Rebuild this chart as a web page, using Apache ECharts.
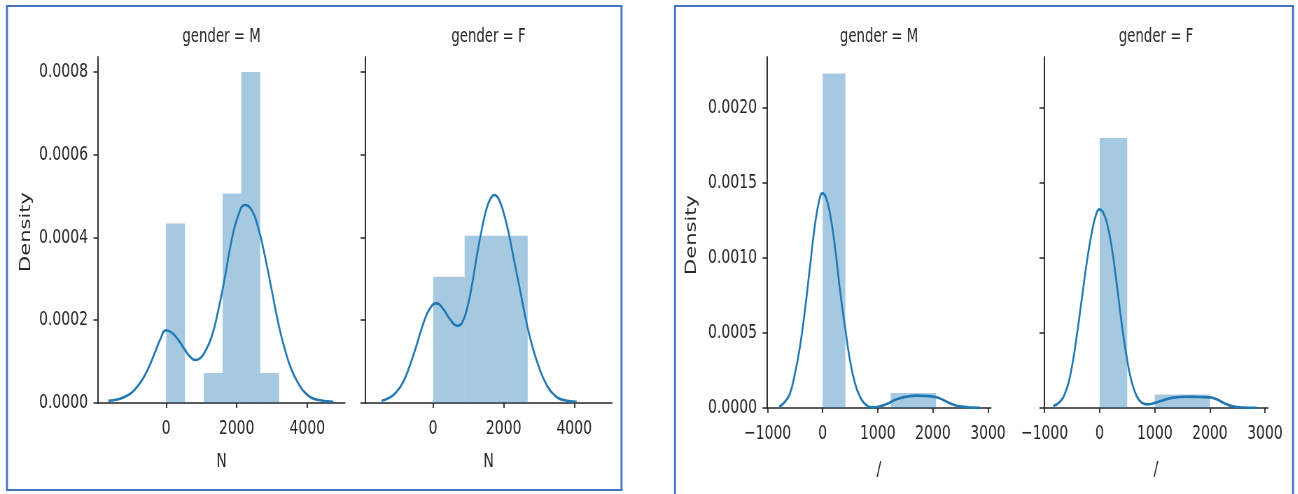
<!DOCTYPE html>
<html>
<head>
<meta charset="utf-8">
<script src="https://cdn.jsdelivr.net/npm/echarts@6/dist/echarts.min.js"></script>
<style>
  html, body { margin: 0; padding: 0; background: #ffffff; overflow: hidden; }
  #stage { width: 1298px; height: 494px; overflow: hidden; position: relative; }
  /* the figure is laid out on a wider canvas and narrowed horizontally */
  #chart { width: 1855px; height: 494px; transform: scaleX(0.7); transform-origin: 0 0; }
</style>
</head>
<body>
<div id="stage"><div id="chart"></div></div>
<script>
// ---- N, gender = M ----
const nMaleBinEdges = [0, 533, 1067, 1600, 2133, 2667, 3200];
const nMaleDensity  = [0.000434, 0, 0.0000723, 0.000506, 0.0008, 0.0000723];
const nMaleKdeX = [-1637, -1354, -1070, -881, -692, -504, -315, -173, -3, 158, 347, 536, 677, 819, 961, 1102,
                   1291, 1480, 1669, 1858, 2047, 2236, 2425, 2614, 2803, 2992, 3181, 3370, 3559, 3747, 3936, 4220, 4739];
const nMaleKdeY = [0.0000056, 0.0000089, 0.0000193, 0.000033, 0.000054, 0.0000838, 0.0001224, 0.0001522, 0.0001756,
                   0.0001699, 0.0001522, 0.000128, 0.000112, 0.0001039, 0.0001079, 0.000124, 0.0001603, 0.0002247,
                   0.0003052, 0.0003938, 0.0004542, 0.0004784, 0.0004663, 0.000422, 0.0003536, 0.000273, 0.0001925,
                   0.000128, 0.0000797, 0.0000475, 0.000025, 0.0000089, 0.0000032];

// ---- N, gender = F ----
const nFemaleBinEdges = [0, 893, 1787, 2680];
const nFemaleDensity  = [0.000305, 0.000404, 0.000404];
const nFemaleKdeX = [-1458, -1221, -1032, -844, -655, -466, -277, -88, 101, 290, 479, 687, 810, 951, 1093, 1235,
                     1376, 1518, 1632, 1735, 1849, 1990, 2132, 2274, 2463, 2652, 2841, 3030, 3219, 3407, 3691, 4069];
const nFemaleKdeY = [0.0000056, 0.0000137, 0.0000274, 0.0000515, 0.0000918, 0.0001401, 0.0001925, 0.0002287,
                     0.0002408, 0.0002263, 0.0002022, 0.0001868, 0.0001925, 0.0002247, 0.0002811, 0.0003536,
                     0.000418, 0.0004704, 0.0004945, 0.0005026, 0.0004945, 0.0004623, 0.000414, 0.0003536,
                     0.000273, 0.0001925, 0.000128, 0.0000797, 0.0000435, 0.0000217, 0.0000072, 0.0000032];

// ---- "/", gender = M ----
const slashMaleBinEdges = [0, 411.6, 823.2, 1234.8, 1646.4, 2058];
const slashMaleDensity  = [0.00223, 0, 0, 0.0001, 0.0001];
const slashMaleKdeX = [-787, -684, -593, -503, -412, -321, -230, -140, -61, -7, 54, 132, 223, 314, 405, 495, 586,
                       677, 768, 889, 1010, 1161, 1342, 1524, 1705, 1887, 2068, 2189, 2341, 2522, 2855];
const slashMaleKdeY = [0.0000089, 0.0000422, 0.0000978, 0.0002311, 0.0004089, 0.0006533, 0.0009422, 0.00122,
                       0.0013867, 0.0014311, 0.0014089, 0.0012978, 0.0010755, 0.0007867, 0.0005422, 0.00032,
                       0.0001645, 0.0000755, 0.0000267, 0.0000045, 0.0000089, 0.0000267, 0.0000578, 0.0000755,
                       0.0000822, 0.00008, 0.0000711, 0.0000533, 0.0000267, 0.0000089, 0.000001];

// ---- "/", gender = F ----
const slashFemaleBinEdges = [0, 500, 1000, 1500, 2000];
const slashFemaleDensity  = [0.0018, 0, 0.00009, 0.00009];
const slashFemaleKdeX = [-842, -721, -630, -527, -418, -327, -236, -146, -67, -7, 54, 126, 217, 308, 399, 489, 580,
                         671, 762, 852, 973, 1125, 1336, 1578, 1820, 2002, 2123, 2244, 2395, 2607, 2849];
const slashFemaleKdeY = [0.0000133, 0.0000422, 0.0000978, 0.0002311, 0.0004755, 0.00072, 0.0009645, 0.0011645,
                         0.0012867, 0.0013245, 0.0013089, 0.0012422, 0.0010755, 0.0008311, 0.0005645, 0.0003422,
                         0.0001755, 0.00008, 0.0000355, 0.0000245, 0.0000311, 0.0000489, 0.0000689, 0.0000755,
                         0.0000733, 0.0000711, 0.0000578, 0.0000355, 0.0000133, 0.000003, 0.000001];

// ---- tick values and labels ----
const nTicks = [0, 2000, 4000];
const nDensityTicks = [0, 0.0002, 0.0004, 0.0006, 0.0008];
const slashTicks = [-1000, 0, 1000, 2000, 3000];
const slashDensityTicks = [0, 0.0005, 0.001, 0.0015, 0.002];
const facetTitles = ['gender = M', 'gender = F', 'gender = M', 'gender = F'];
const xNames = ['N', 'N', '/', '/'];
const yName = 'Density';

// ---- styling ----
const SX = 0.7;                 // horizontal narrowing applied to #chart
const sx = v => v / SX;         // screen x -> canvas x
const INK = '#262626';
const LINE_BLUE = '#1f77b4';
const HIST_FILL = 'rgba(31,119,180,0.4)';
const FRAME = '#4472c4';
const FONT = "'DejaVu Sans', sans-serif";

const pairs = (xs, ys) => xs.map((x, i) => [x, ys[i]]);
const bins = (edges, dens) => dens.map((d, i) => [edges[i], edges[i + 1], d]).filter(b => b[2] > 0);
const minusFmt = v => (v < 0 ? '\u2212' + Math.abs(v) : String(v));

const facets = [
  { left: 98, top: 57, width: 247, height: 346, x: [-1930, 5070], yMax: 0.000836,
    xTicks: nTicks, yTicks: nDensityTicks, yLabels: true, nameGap: 49,
    hist: bins(nMaleBinEdges, nMaleDensity), kde: pairs(nMaleKdeX, nMaleKdeY) },
  { left: 365, top: 57, width: 247, height: 346, x: [-1930, 5070], yMax: 0.000836,
    xTicks: nTicks, yTicks: nDensityTicks, yLabels: false, nameGap: 49,
    hist: bins(nFemaleBinEdges, nFemaleDensity), kde: pairs(nFemaleKdeX, nFemaleKdeY) },
  { left: 767, top: 57, width: 224, height: 351, x: [-1010, 3055], yMax: 0.00234,
    xTicks: slashTicks, yTicks: slashDensityTicks, yLabels: true, nameGap: 52,
    hist: bins(slashMaleBinEdges, slashMaleDensity), kde: pairs(slashMaleKdeX, slashMaleKdeY) },
  { left: 1044, top: 57, width: 224, height: 351, x: [-1010, 3055], yMax: 0.00234,
    xTicks: slashTicks, yTicks: slashDensityTicks, yLabels: false, nameGap: 52,
    hist: bins(slashFemaleBinEdges, slashFemaleDensity), kde: pairs(slashFemaleKdeX, slashFemaleKdeY) }
];

const grids = facets.map(f => ({
  containLabel: false, outerBoundsMode: 'none',
  left: sx(f.left), top: f.top, width: sx(f.width), height: f.height
}));

const xAxes = facets.map((f, i) => ({
  type: 'value', gridIndex: i, min: f.x[0], max: f.x[1],
  axisLine: { show: true, onZero: false, lineStyle: { color: INK, width: 1.5 } },
  splitLine: { show: false },
  axisTick: { show: true, length: 5, lineStyle: { color: INK, width: 1.8 }, customValues: f.xTicks },
  axisLabel: { show: true, customValues: f.xTicks, formatter: minusFmt, margin: 16,
               color: INK, fontSize: 20, fontFamily: FONT },
  name: xNames[i], nameLocation: 'middle', nameGap: f.nameGap,
  nameTextStyle: { color: INK, fontSize: 20, fontFamily: FONT }
}));

const yAxes = facets.map((f, i) => ({
  type: 'value', gridIndex: i, min: 0, max: f.yMax,
  axisLine: { show: true, onZero: false, lineStyle: { color: INK, width: 1.9 } },
  splitLine: { show: false },
  axisTick: { show: true, length: sx(4.5), lineStyle: { color: INK, width: 1.5 }, customValues: f.yTicks },
  axisLabel: { show: f.yLabels, customValues: f.yTicks, formatter: v => v.toFixed(4), margin: sx(10),
               color: INK, fontSize: 20, fontFamily: FONT }
}));

const series = [];
facets.forEach((f, i) => {
  series.push({
    type: 'custom', xAxisIndex: i, yAxisIndex: i, z: 2,
    data: f.hist,
    encode: { x: [0, 1], y: 2 },
    renderItem: (params, api) => {
      const top = api.coord([api.value(0), api.value(2)]);
      const base = api.coord([api.value(1), 0]);
      return {
        type: 'rect',
        shape: { x: top[0], y: top[1], width: base[0] - top[0], height: base[1] - top[1] },
        style: { fill: HIST_FILL }
      };
    }
  });
  series.push({
    type: 'line', xAxisIndex: i, yAxisIndex: i, z: 3,
    data: f.kde, showSymbol: false, symbol: 'none',
    smooth: 0.5,
    lineStyle: { color: LINE_BLUE, width: 2.6 }
  });
});

// framing boxes drawn as four thin bars each (stroke centred on the given edges)
const graphics = [];
function frame(x0, y0, x1, y1) {
  const t = 2;
  [[x0 - 1, y0 - 1, x1 - x0 + t, t], [x0 - 1, y1 - 1, x1 - x0 + t, t],
   [x0 - 1, y0 - 1, t, y1 - y0 + t], [x1 - 1, y0 - 1, t, y1 - y0 + t]].forEach(r => {
    graphics.push({ type: 'rect', silent: true,
      shape: { x: sx(r[0]), y: r[1], width: sx(r[2]), height: r[3] }, style: { fill: FRAME } });
  });
}
frame(7, 6, 621.5, 490);
frame(675, 6, 1293, 500);

// facet titles
facetTitles.forEach((t, i) => {
  graphics.push({
    type: 'text', x: sx(facets[i].left + facets[i].width / 2), y: 37, silent: true,
    style: { text: t, fill: INK, fontSize: 19, fontFamily: FONT,
             textAlign: 'center', textVerticalAlign: 'middle' }
  });
});
// rotated y names, one per figure
[[26, 232], [692, 235]].forEach(p => {
  graphics.push({
    type: 'text', x: sx(p[0]), y: p[1], rotation: Math.PI / 2, silent: true,
    style: { text: yName, fill: INK, fontSize: 21, fontFamily: FONT,
             textAlign: 'center', textVerticalAlign: 'middle' }
  });
});

const chart = echarts.init(document.getElementById('chart'), null, { renderer: 'canvas' });
chart.setOption({
  animation: false,
  backgroundColor: '#ffffff',
  grid: grids,
  xAxis: xAxes,
  yAxis: yAxes,
  series: series,
  graphic: graphics
});
</script>
</body>
</html>
